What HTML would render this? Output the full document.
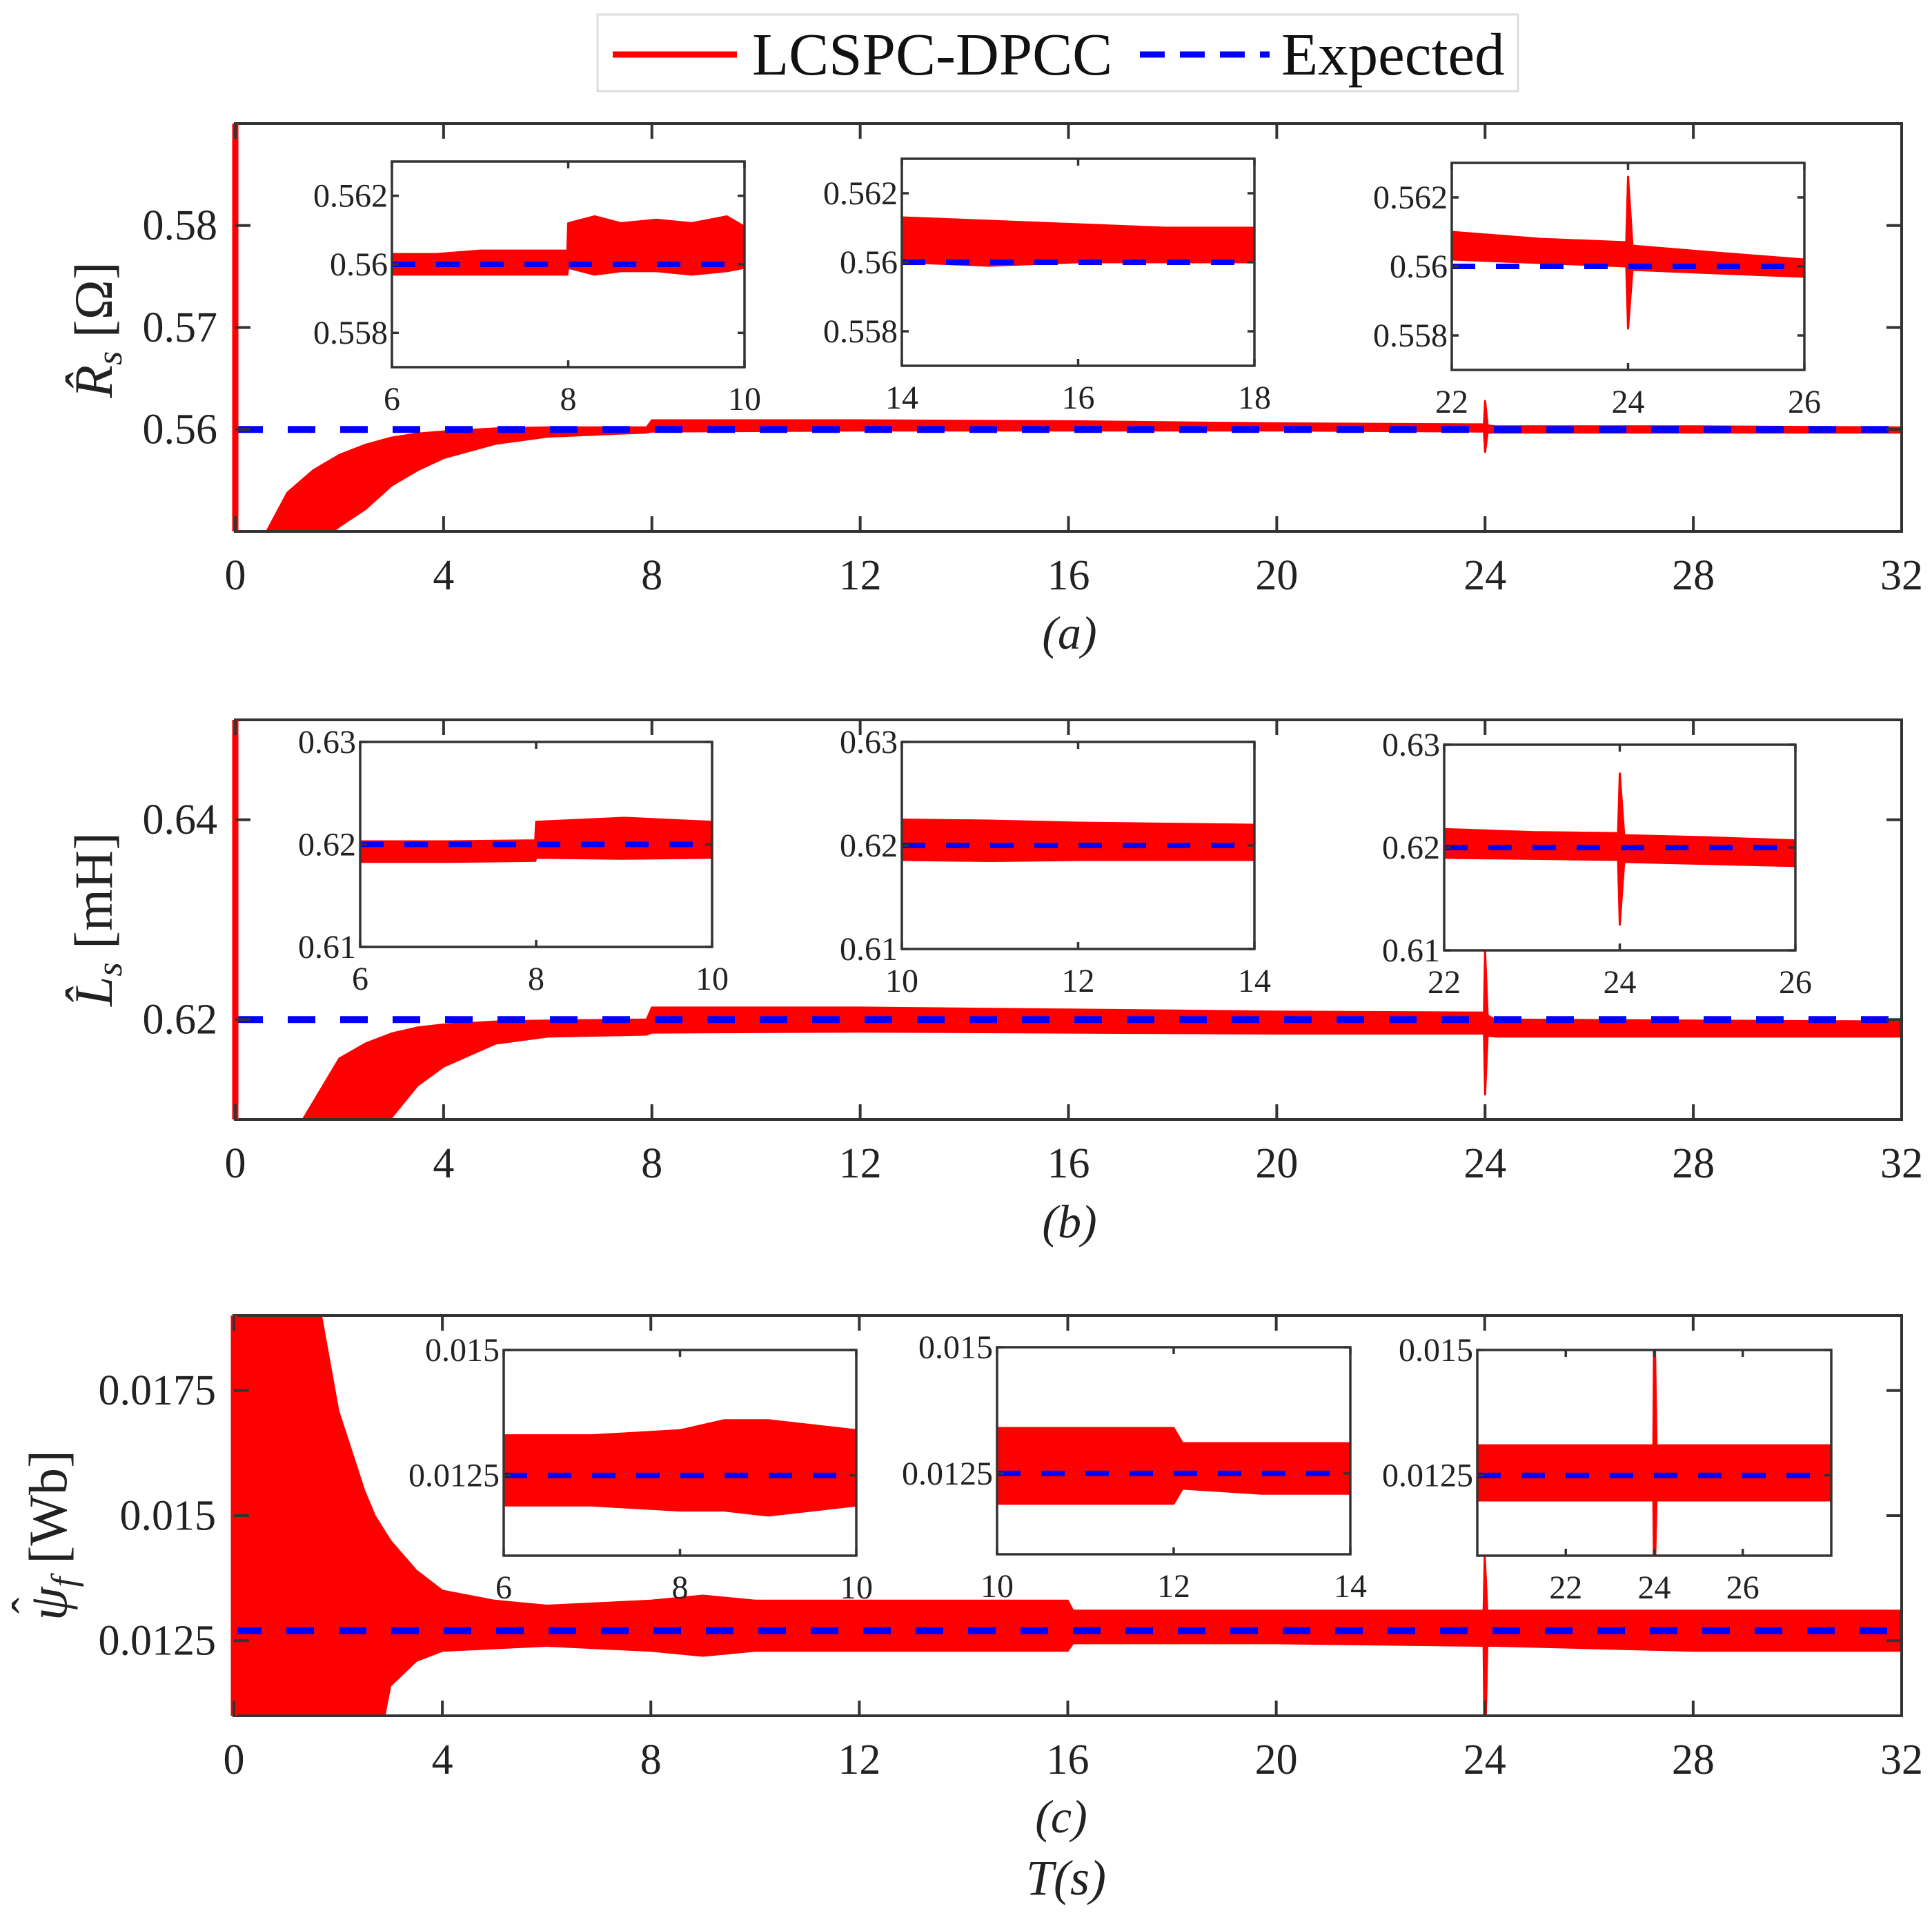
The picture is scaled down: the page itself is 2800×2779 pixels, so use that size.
<!DOCTYPE html>
<html><head><meta charset="utf-8"><style>
html,body{margin:0;padding:0;background:#fff;}
svg{display:block;font-family:"Liberation Serif",serif;}
</style></head><body>
<svg id="fig" width="2800" height="2779" viewBox="0 0 2800 2779" xmlns="http://www.w3.org/2000/svg">
<g>
<rect x="866" y="21" width="1334" height="111" fill="#fff" stroke="#ddd" stroke-width="3"/>
<line x1="888" y1="79" x2="1068" y2="79" stroke="#f00" stroke-width="9"/>
<text x="1090" y="108" font-size="87" fill="#111">LCSPC-DPCC</text>
<line x1="1652" y1="79" x2="1840" y2="79" stroke="#00f" stroke-width="9" stroke-dasharray="36 22"/>
<text x="1857" y="108" font-size="87" fill="#111">Expected</text>
</g>
<text transform="translate(162,478) rotate(-90)" text-anchor="middle" font-size="78" fill="#222"><tspan font-style="italic">R̂</tspan><tspan font-style="italic" font-size="52" dy="14">s</tspan><tspan dy="-14">  [Ω]</tspan></text>
<text transform="translate(162,1332) rotate(-90)" text-anchor="middle" font-size="78" fill="#222"><tspan font-style="italic">L̂</tspan><tspan font-style="italic" font-size="52" dy="14">s</tspan><tspan dy="-14">  [mH]</tspan></text>
<g transform="translate(96,2198) rotate(-90)">
<text x="-150" y="0" font-size="78" fill="#222"><tspan font-style="italic">ψ</tspan><tspan font-style="italic" font-size="52" dy="14">f</tspan><tspan dy="-14">  [Wb]</tspan></text>
<text x="-140" y="-30" font-size="70" fill="#222">ˆ</text>
</g>
<text x="1550" y="940" text-anchor="middle" font-size="68" font-style="italic" fill="#222">(a)</text>
<text x="1550" y="1793" text-anchor="middle" font-size="68" font-style="italic" fill="#222">(b)</text>
<text x="1538" y="2655" text-anchor="middle" font-size="68" font-style="italic" fill="#222">(c)</text>
<text x="1545" y="2745" text-anchor="middle" font-size="72" font-style="italic" fill="#222">T(s)</text>
</svg>
<script>
// ---- main panel data ----
const tA = [0, 0.03, 0.5, 1.0, 1.5, 2.0, 2.5, 3.0, 3.5, 4.0, 5.0, 6.0, 7.9, 8.0, 12, 16, 20, 23.9, 23.98, 24.0, 24.05, 24.2, 28, 32];
const hiA = [0.60, 0.54, 0.549, 0.5538, 0.556, 0.5575, 0.5585, 0.5592, 0.5596, 0.5598, 0.5601, 0.5602, 0.5602, 0.5609, 0.5609, 0.5608, 0.5606, 0.5605, 0.5605, 0.5628, 0.5604, 0.5603, 0.5603, 0.5602];
const loA = [0.50, 0.50, 0.50, 0.50, 0.5485, 0.5505, 0.5522, 0.5545, 0.5560, 0.5572, 0.5586, 0.5593, 0.5597, 0.5598, 0.5599, 0.5599, 0.5599, 0.5598, 0.5598, 0.5578, 0.5597, 0.5597, 0.5597, 0.5597];
const tB = [0, 0.03, 1.3, 2, 2.5, 3, 3.5, 4, 5, 6, 7.9, 8.0, 12, 16, 20, 23.9, 23.98, 24.0, 24.05, 24.2, 28, 32];
const hiB = [0.66, 0.60, 0.61, 0.6161, 0.6176, 0.6186, 0.6192, 0.6195, 0.6198, 0.6199, 0.6200, 0.6212, 0.6212, 0.6210, 0.6208, 0.6207, 0.6207, 0.6268, 0.6204, 0.6200, 0.6199, 0.6198];
const loB = [0.60, 0.60, 0.60, 0.60, 0.60, 0.6102, 0.6134, 0.6153, 0.6176, 0.6183, 0.6185, 0.6187, 0.6188, 0.6187, 0.6186, 0.6186, 0.6186, 0.6125, 0.6184, 0.6183, 0.6183, 0.6183];
const tC = [0, 1.5, 2, 2.5, 2.7, 3, 3.5, 4, 5, 6, 8, 9, 10, 12, 16, 16.1, 20, 23.9, 23.98, 24.0, 24.05, 24.2, 28, 32];
const hiC = [0.02, 0.02, 0.0171, 0.0155, 0.0150, 0.0145, 0.0139, 0.0135, 0.0133, 0.0132, 0.0133, 0.0134, 0.0133, 0.0133, 0.0133, 0.0131, 0.0131, 0.0131, 0.0131, 0.0142, 0.0131, 0.0131, 0.0131, 0.0131];
const loC = [0.01, 0.01, 0.01, 0.01, 0.01, 0.0116, 0.0121, 0.0123, 0.01235, 0.0124, 0.0123, 0.0122, 0.0123, 0.0123, 0.0123, 0.01245, 0.01245, 0.0124, 0.0124, 0.01, 0.0124, 0.0124, 0.0123, 0.0123];
const expectedA = 0.56, expectedB = 0.62, expectedC = 0.0127, expectedCInset = 0.0125;
const xTicksMain = [0, 4, 8, 12, 16, 20, 24, 28, 32];
const yTicksA = [0.56, 0.57, 0.58], yLabelsA = ['0.56', '0.57', '0.58'];
const yTicksB = [0.62, 0.64], yLabelsB = ['0.62', '0.64'];
const yTicksC = [0.0125, 0.015, 0.0175], yLabelsC = ['0.0125', '0.015', '0.0175'];
// ---- inset data ----
const ta1 = [6, 6.5, 7, 7.5, 7.99, 8.0, 8.3, 8.6, 9, 9.4, 9.8, 10];
const hia1 = [0.5603, 0.5603, 0.5604, 0.5604, 0.5604, 0.5612, 0.5614, 0.5612, 0.5613, 0.5612, 0.5614, 0.5611];
const loa1 = [0.5597, 0.5597, 0.5597, 0.5597, 0.5597, 0.5599, 0.5597, 0.5598, 0.5598, 0.5597, 0.5598, 0.5599];
const ta2 = [14, 15, 16, 17, 18];
const hia2 = [0.5613, 0.5612, 0.5611, 0.5610, 0.5610];
const loa2 = [0.5600, 0.5599, 0.5600, 0.5600, 0.5600];
const ta3 = [22, 23, 23.98, 24.0, 24.05, 25, 26];
const hia3 = [0.5610, 0.5608, 0.5607, 0.5626, 0.5606, 0.5604, 0.5602];
const loa3 = [0.5602, 0.5601, 0.5600, 0.5582, 0.5599, 0.5598, 0.5597];
const tb1 = [6, 7, 7.99, 8.0, 9, 10];
const hib1 = [0.6203, 0.6203, 0.6204, 0.6222, 0.6226, 0.6222];
const lob1 = [0.6183, 0.6183, 0.6184, 0.6187, 0.6186, 0.6187];
const tb2 = [10, 11, 12, 13, 14];
const hib2 = [0.6225, 0.6224, 0.6222, 0.6221, 0.6220];
const lob2 = [0.6186, 0.6185, 0.6186, 0.6186, 0.6186];
const tb3 = [22, 23, 23.98, 24.0, 24.05, 25, 26];
const hib3 = [0.6218, 0.6215, 0.6214, 0.6272, 0.6212, 0.6210, 0.6207];
const lob3 = [0.6190, 0.6189, 0.6188, 0.6125, 0.6186, 0.6184, 0.6182];
const tc1 = [6, 7, 8, 8.5, 9, 9.5, 10];
const hic1 = [0.0133, 0.0133, 0.0134, 0.0136, 0.0136, 0.0135, 0.0134];
const loc1 = [0.0119, 0.0119, 0.0118, 0.0118, 0.0117, 0.0118, 0.0119];
const tc2 = [10, 11, 12, 12.1, 13, 14];
const hic2 = [0.0134, 0.0134, 0.0134, 0.0131, 0.0131, 0.0131];
const loc2 = [0.0119, 0.0119, 0.0119, 0.0122, 0.0121, 0.0121];
const tc3 = [20, 22, 23.98, 24.0, 24.05, 26, 28];
const hic3 = [0.0131, 0.0131, 0.0131, 0.0160, 0.0131, 0.0131, 0.0131];
const loc3 = [0.0120, 0.0120, 0.0120, 0.0100, 0.0120, 0.0120, 0.0120];

const NS = 'http://www.w3.org/2000/svg';
const svg = document.getElementById('fig');
let clipId = 0;
function mk(tag, attrs, parent) {
  const e = document.createElementNS(NS, tag);
  for (const k in attrs) e.setAttribute(k, attrs[k]);
  parent.appendChild(e);
  return e;
}
function panel(name, box, xr, yr, t, lo, hi, expected, xt, xl, yt, yl, o) {
  const g = mk('g', {}, svg);
  
  
  const sx = v => box.x0 + (v - xr[0]) / (xr[1] - xr[0]) * (box.x1 - box.x0);
  const sy = v => box.y1 - (v - yr[0]) / (yr[1] - yr[0]) * (box.y1 - box.y0);
  const bg = mk('rect', {x: box.x0, y: box.y0, width: box.x1 - box.x0, height: box.y1 - box.y0, fill: '#fff'}, g);
  
  
  const cid = 'clip' + (clipId++);
  const cp = mk('clipPath', {id: cid}, g);
  mk('rect', {x: box.x0 - 6, y: box.y0, width: box.x1 - box.x0 + 12, height: box.y1 - box.y0}, cp);
  const dg = mk('g', {'clip-path': 'url(#' + cid + ')'}, g);
  
  
  const pts = [];
  for (let i = 0; i < t.length; i++) pts.push(sx(t[i]).toFixed(1) + ',' + sy(hi[i]).toFixed(1));
  for (let i = t.length - 1; i >= 0; i--) pts.push(sx(t[i]).toFixed(1) + ',' + sy(lo[i]).toFixed(1));
  const band = mk('polygon', {points: pts.join(' '), fill: '#f00', stroke: '#f00', 'stroke-width': o.sw, 'stroke-linejoin': 'round'}, dg);
  
  
  const fr = mk('rect', {x: box.x0, y: box.y0, width: box.x1 - box.x0, height: box.y1 - box.y0, fill: 'none', stroke: '#333', 'stroke-width': o.fw}, g);
  
  
  if (o.startLine) {
    const sl = mk('line', {x1: sx(t[0]), x2: sx(t[0]), y1: Math.max(box.y0, sy(hi[0])), y2: Math.min(box.y1, sy(lo[0])), stroke: '#f00', 'stroke-width': o.startLine}, g);
    
    
  }
  const ex = mk('line', {x1: box.x0, x2: box.x1, y1: sy(expected), y2: sy(expected), stroke: '#00f', 'stroke-width': o.dw, 'stroke-dasharray': o.dash}, dg);
  
  
  xt.forEach((v, i) => {
    const x = sx(v);
    mk('line', {x1: x, x2: x, y1: box.y1, y2: box.y1 - o.tl, stroke: '#333', 'stroke-width': o.fw}, g);
    mk('line', {x1: x, x2: x, y1: box.y0, y2: box.y0 + o.tl, stroke: '#333', 'stroke-width': o.fw}, g);
    const tx = mk('text', {x: x, y: box.y1 + o.xlo, 'text-anchor': 'middle', 'font-size': o.fs, fill: '#222'}, g);
    tx.textContent = xl[i];
    
    
  });
  yt.forEach((v, i) => {
    const y = sy(v);
    mk('line', {x1: box.x0, x2: box.x0 + o.tl, y1: y, y2: y, stroke: '#333', 'stroke-width': o.fw}, g);
    mk('line', {x1: box.x1, x2: box.x1 - o.tl, y1: y, y2: y, stroke: '#333', 'stroke-width': o.fw}, g);
    const ty = mk('text', {x: box.x0 - o.ylo, y: y + o.fs * 0.33, 'text-anchor': 'end', 'font-size': o.fs, fill: '#222'}, g);
    ty.textContent = yl[i];
    
    
  });
  return g;
}
const mainO = {sw: 3, dw: 10, dash: '40 36', fw: 4, tl: 22, fs: 62, xlo: 84, ylo: 26, startLine: 9};
const insO = {sw: 3, dw: 8, dash: '34 30', fw: 3.5, tl: 10, fs: 48, xlo: 62, ylo: 6};
const xl = xTicksMain.map(String);
panel('panel-a', {x0: 341, x1: 2756, y0: 179, y1: 770}, [0, 32], [0.55, 0.59], tA, loA, hiA, expectedA, xTicksMain, xl, yTicksA, yLabelsA, mainO);
panel('panel-b', {x0: 341, x1: 2756, y0: 1043, y1: 1622}, [0, 32], [0.61, 0.65], tB, loB, hiB, expectedB, xTicksMain, xl, yTicksB, yLabelsB, mainO);
panel('panel-c', {x0: 339, x1: 2756, y0: 1906, y1: 2486}, [0, 32], [0.011, 0.019], tC, loC, hiC, expectedC, xTicksMain, xl, yTicksC, yLabelsC, mainO);
const ayT = [0.558, 0.56, 0.562], ayL = ['0.558', '0.56', '0.562'];
const byT = [0.61, 0.62, 0.63], byL = ['0.61', '0.62', '0.63'];
const cyT = [0.0125, 0.015], cyL = ['0.0125', '0.015'];
panel('inset-a1', {x0: 568, x1: 1079, y0: 234, y1: 532}, [6, 10], [0.557, 0.563], ta1, loa1, hia1, expectedA, [6, 8, 10], ['6', '8', '10'], ayT, ayL, insO);
panel('inset-a2', {x0: 1307, x1: 1818, y0: 230, y1: 530}, [14, 18], [0.557, 0.563], ta2, loa2, hia2, expectedA, [14, 16, 18], ['14', '16', '18'], ayT, ayL, insO);
panel('inset-a3', {x0: 2104, x1: 2615, y0: 236, y1: 536}, [22, 26], [0.557, 0.563], ta3, loa3, hia3, expectedA, [22, 24, 26], ['22', '24', '26'], ayT, ayL, insO);
panel('inset-b1', {x0: 522, x1: 1032, y0: 1075, y1: 1372}, [6, 10], [0.61, 0.63], tb1, lob1, hib1, expectedB, [6, 8, 10], ['6', '8', '10'], byT, byL, insO);
panel('inset-b2', {x0: 1307, x1: 1818, y0: 1075, y1: 1375}, [10, 14], [0.61, 0.63], tb2, lob2, hib2, expectedB, [10, 12, 14], ['10', '12', '14'], byT, byL, insO);
panel('inset-b3', {x0: 2093, x1: 2602, y0: 1079, y1: 1377}, [22, 26], [0.61, 0.63], tb3, lob3, hib3, expectedB, [22, 24, 26], ['22', '24', '26'], byT, byL, insO);
panel('inset-c1', {x0: 730, x1: 1241, y0: 1956, y1: 2254}, [6, 10], [0.0109, 0.015], tc1, loc1, hic1, expectedCInset, [6, 8, 10], ['6', '8', '10'], cyT, cyL, insO);
panel('inset-c2', {x0: 1445, x1: 1957, y0: 1952, y1: 2252}, [10, 14], [0.0109, 0.015], tc2, loc2, hic2, expectedCInset, [10, 12, 14], ['10', '12', '14'], cyT, cyL, insO);
panel('inset-c3', {x0: 2141, x1: 2654, y0: 1956, y1: 2254}, [20, 28], [0.0109, 0.015], tc3, loc3, hic3, expectedCInset, [22, 24, 26], ['22', '24', '26'], cyT, cyL, insO);
</script>
</body></html>
